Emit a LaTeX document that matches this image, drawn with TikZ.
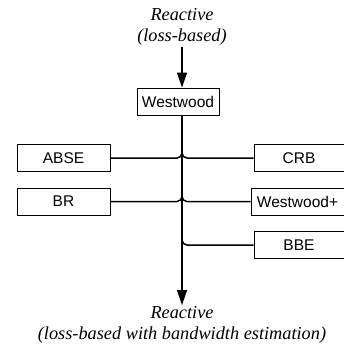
\documentclass[tikz,border=0pt]{standalone}
\usepackage{fontspec}
\setmainfont{Liberation Serif}
\setsansfont{Liberation Sans}
\usetikzlibrary{positioning,arrows.meta}

\begin{document}
\begin{tikzpicture}[x=1pt,y=-1pt,
  alg/.style={draw,line width=0.9pt,minimum height=27pt,minimum width=93pt,inner sep=0pt,
    font=\sffamily\fontsize{15.5}{18}\selectfont},
  lbl/.style={align=center,inner sep=1pt,font=\itshape\fontsize{18.3}{21.5}\selectfont},
  arr/.style={-{Triangle[length=15pt,width=10pt]},line width=1.3pt},
  br/.style={line width=1.5pt,rounded corners=5pt}]
\useasboundingbox (0,0) rectangle (344,345);
% congestion control variants, main line runs top to bottom
\node[lbl] (src) at (182,27) {Reactive\\(loss-based)};
\node[alg,minimum width=82pt] (ww) at (178,101.5) {Westwood};
\node[alg] (abse) at (63.5,158) {ABSE};
\node[alg] (br) at (63.5,201.5) {BR};
\node[alg,minimum width=90pt] (crb) at (299,158) {CRB};
\node[alg] (wwp) at (297.5,201.5) {Westwood+};
\node[alg,minimum width=90pt] (bbe) at (299,245) {BBE};
\node[lbl] (dst) at (182,325) {Reactive\\(loss-based with bandwidth estimation)};
\draw[arr] (src.south) -- (src.south |- ww.north);
\draw[arr] (src.south |- ww.south) -- (dst.north);
% branches merge into the main line
\coordinate (j1) at (182,143);
\coordinate (j2) at (182,187);
\coordinate (j3) at (182,230);
\draw[br] (abse.east) -| (j1);
\draw[br] (crb.west) -| (j1);
\draw[br] (br.east) -| (j2);
\draw[br] (wwp.west) -| (j2);
\draw[br] (bbe.west) -| (j3);
\end{tikzpicture}
\end{document}
